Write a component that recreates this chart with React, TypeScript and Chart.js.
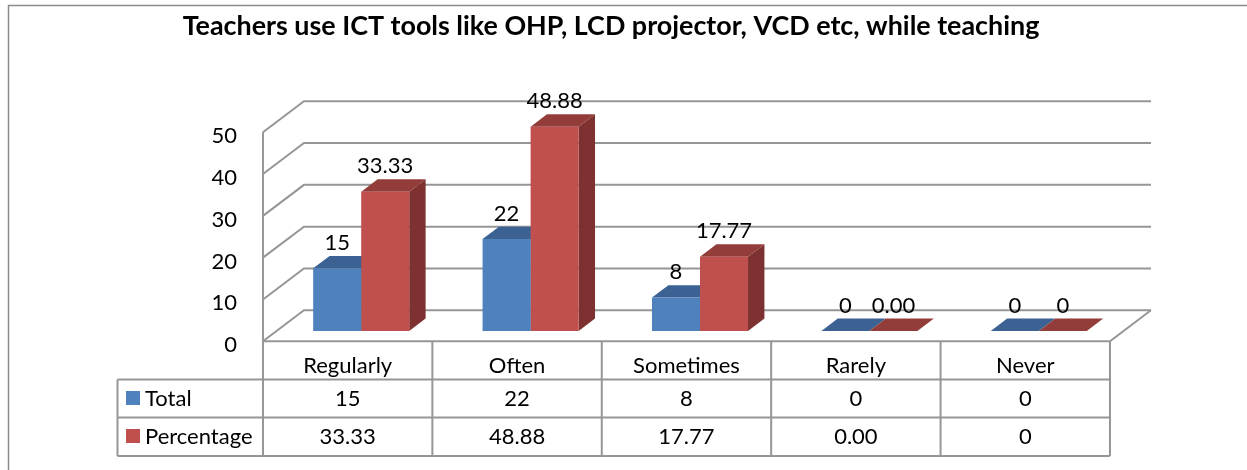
import React, { useEffect, useRef } from "react";
import { Chart, registerables } from "chart.js";

Chart.register(...registerables);

// ---------- data ----------
const chartTitle = "Teachers use ICT tools like OHP, LCD projector, VCD etc, while teaching";
const categories = ["Regularly", "Often", "Sometimes", "Rarely", "Never"];
const seriesNames = ["Total", "Percentage"];
const totalValues = [15, 22, 8, 0, 0];
const percentValues = [33.33, 48.88, 17.77, 0, 0];
const totalLabels = ["15", "22", "8", "0", "0"];
const percentLabels = ["33.33", "48.88", "17.77", "0.00", "0"];
const yTicks = [0, 10, 20, 30, 40, 50];

// ---------- styles ----------
const FONT = "Lato, 'Open Sans', sans-serif";
const GRID = "#969696";
const FRONT = ["#4F81BD", "#C0504D"];
const TOP = ["#3B6293", "#933D3A"];
const SIDE = ["#30507A", "#7D3130"];

// depth geometry: full depth offset and bar placement in depth
const DX = 41;
const DY = -31;
const F0 = 0.33; // depth of bar front faces
const FB = 0.4; // bar depth

const threeD = {
  id: "threeD",
  beforeDatasetsDraw(chart: any) {
    const { ctx, chartArea, scales } = chart;
    const xS = scales.x;
    const yS = scales.y;
    const offX = -F0 * DX;
    const offY = -F0 * DY;
    const frontLeft = chartArea.left + offX;
    const frontRight = chartArea.right + offX;
    const fy = (v: number) => yS.getPixelForValue(v) + offY;

    ctx.save();
    // outer border
    ctx.strokeStyle = "#8a8a8a";
    ctx.lineWidth = 1.5;
    ctx.strokeRect(8.5, 5.5, 1400, 600);

    // title
    ctx.fillStyle = "#000";
    ctx.font = `bold 100px ${FONT}`;
    const tw = ctx.measureText(chartTitle).width;
    const tsize = (100 * 857) / tw;
    ctx.font = `bold ${tsize}px ${FONT}`;
    ctx.textAlign = "center";
    ctx.textBaseline = "alphabetic";
    ctx.fillText(chartTitle, 611, 34.5);

    // walls and gridlines
    ctx.strokeStyle = GRID;
    ctx.lineWidth = 2;
    ctx.lineCap = "butt";
    for (const v of yTicks) {
      const y = fy(v);
      ctx.beginPath();
      ctx.moveTo(frontLeft, y);
      ctx.lineTo(frontLeft + DX, y + DY);
      ctx.lineTo(frontRight + DX, y + DY);
      ctx.stroke();
    }
    ctx.beginPath();
    ctx.moveTo(frontLeft, fy(yTicks[0]));
    ctx.lineTo(frontLeft, fy(yTicks[yTicks.length - 1]));
    ctx.stroke();
    // floor front and right edge
    ctx.beginPath();
    ctx.moveTo(frontLeft, fy(0));
    ctx.lineTo(frontRight, fy(0));
    ctx.lineTo(frontRight + DX, fy(0) + DY);
    ctx.stroke();

    // y tick labels
    ctx.fillStyle = "#000";
    ctx.font = `22px ${FONT}`;
    ctx.textAlign = "right";
    ctx.textBaseline = "alphabetic";
    for (const v of yTicks) ctx.fillText(String(v), 237, fy(v) + 11);

    // data table
    const catW = (frontRight - frontLeft) / categories.length;
    const rowTop = fy(0);
    const r1 = 379.5;
    const r2 = 417.5;
    const r3 = 456;
    const legLeft = 117.5;
    ctx.beginPath();
    ctx.moveTo(legLeft, r1);
    ctx.lineTo(frontRight, r1);
    ctx.moveTo(legLeft, r2);
    ctx.lineTo(frontRight, r2);
    ctx.moveTo(legLeft, r3);
    ctx.lineTo(frontRight, r3);
    ctx.moveTo(legLeft, r1);
    ctx.lineTo(legLeft, r3);
    for (let i = 0; i <= categories.length; i++) {
      const x = frontLeft + i * catW;
      ctx.moveTo(x, rowTop);
      ctx.lineTo(x, r3);
    }
    ctx.stroke();

    ctx.font = `22px ${FONT}`;
    ctx.textAlign = "center";
    categories.forEach((c, i) => {
      const cx = xS.getPixelForValue(i) + offX;
      ctx.fillText(c, cx, 372.5);
      ctx.fillText(totalLabels[i], cx, 406);
      ctx.fillText(percentLabels[i], cx, 444);
    });
    ctx.textAlign = "left";
    [r1, r2].forEach((rt, k) => {
      ctx.fillStyle = FRONT[k];
      ctx.fillRect(126, rt + 11.5, 14, 14);
      ctx.fillStyle = "#000";
      ctx.fillText(seriesNames[k], 145, rt + 26);
    });

    // bar tops and sides
    const bdx = FB * DX;
    const bdy = FB * DY;
    for (let d = 0; d < chart.data.datasets.length; d++) {
      const meta = chart.getDatasetMeta(d);
      meta.data.forEach((bar: any) => {
        const { x, y, base, width } = bar.getProps(["x", "y", "base", "width"], true);
        const l = x - width / 2;
        const r = x + width / 2;
        ctx.fillStyle = SIDE[d];
        ctx.beginPath();
        ctx.moveTo(r, y);
        ctx.lineTo(r + bdx, y + bdy);
        ctx.lineTo(r + bdx, base + bdy);
        ctx.lineTo(r, base);
        ctx.closePath();
        ctx.fill();
        ctx.fillStyle = TOP[d];
        ctx.beginPath();
        ctx.moveTo(l, y);
        ctx.lineTo(r, y);
        ctx.lineTo(r + bdx, y + bdy);
        ctx.lineTo(l + bdx, y + bdy);
        ctx.closePath();
        ctx.fill();
      });
    }
    ctx.restore();
  },
  afterDatasetsDraw(chart: any) {
    const { ctx } = chart;
    const labelSets = [totalLabels, percentLabels];
    ctx.save();
    ctx.fillStyle = "#000";
    ctx.font = `22px ${FONT}`;
    ctx.textAlign = "center";
    ctx.textBaseline = "alphabetic";
    for (let d = 0; d < chart.data.datasets.length; d++) {
      const meta = chart.getDatasetMeta(d);
      meta.data.forEach((bar: any, i: number) => {
        const { x, y } = bar.getProps(["x", "y"], true);
        ctx.fillText(labelSets[d][i], x, y - 18.5);
      });
    }
    ctx.restore();
  },
};

export default function App() {
  const ref = useRef<HTMLCanvasElement>(null);
  useEffect(() => {
    if (!ref.current) return;
    const chart = new Chart(ref.current, {
      type: "bar",
      data: {
        labels: categories,
        datasets: [
          { label: seriesNames[0], data: totalValues, backgroundColor: FRONT[0], borderWidth: 0 },
          { label: seriesNames[1], data: percentValues, backgroundColor: FRONT[1], borderWidth: 0 },
        ],
      },
      options: {
        responsive: false,
        animation: false,
        events: [],
        datasets: { bar: { barPercentage: 1, categoryPercentage: 0.567 } },
        layout: { padding: { left: 276.5, right: 123.5, top: 122, bottom: 139 } },
        scales: {
          x: { display: false, offset: true },
          y: { display: false, min: 0, max: 50 },
        },
        plugins: {
          legend: { display: false },
          tooltip: { enabled: false },
          title: { display: false },
        },
      },
      plugins: [threeD],
    });
    return () => chart.destroy();
  }, []);
  return (
    <div style={{ position: "fixed", left: 0, top: 0, width: 1247, height: 470, background: "#fff" }}>
      <canvas ref={ref} width={1247} height={470} style={{ display: "block" }} />
    </div>
  );
}
